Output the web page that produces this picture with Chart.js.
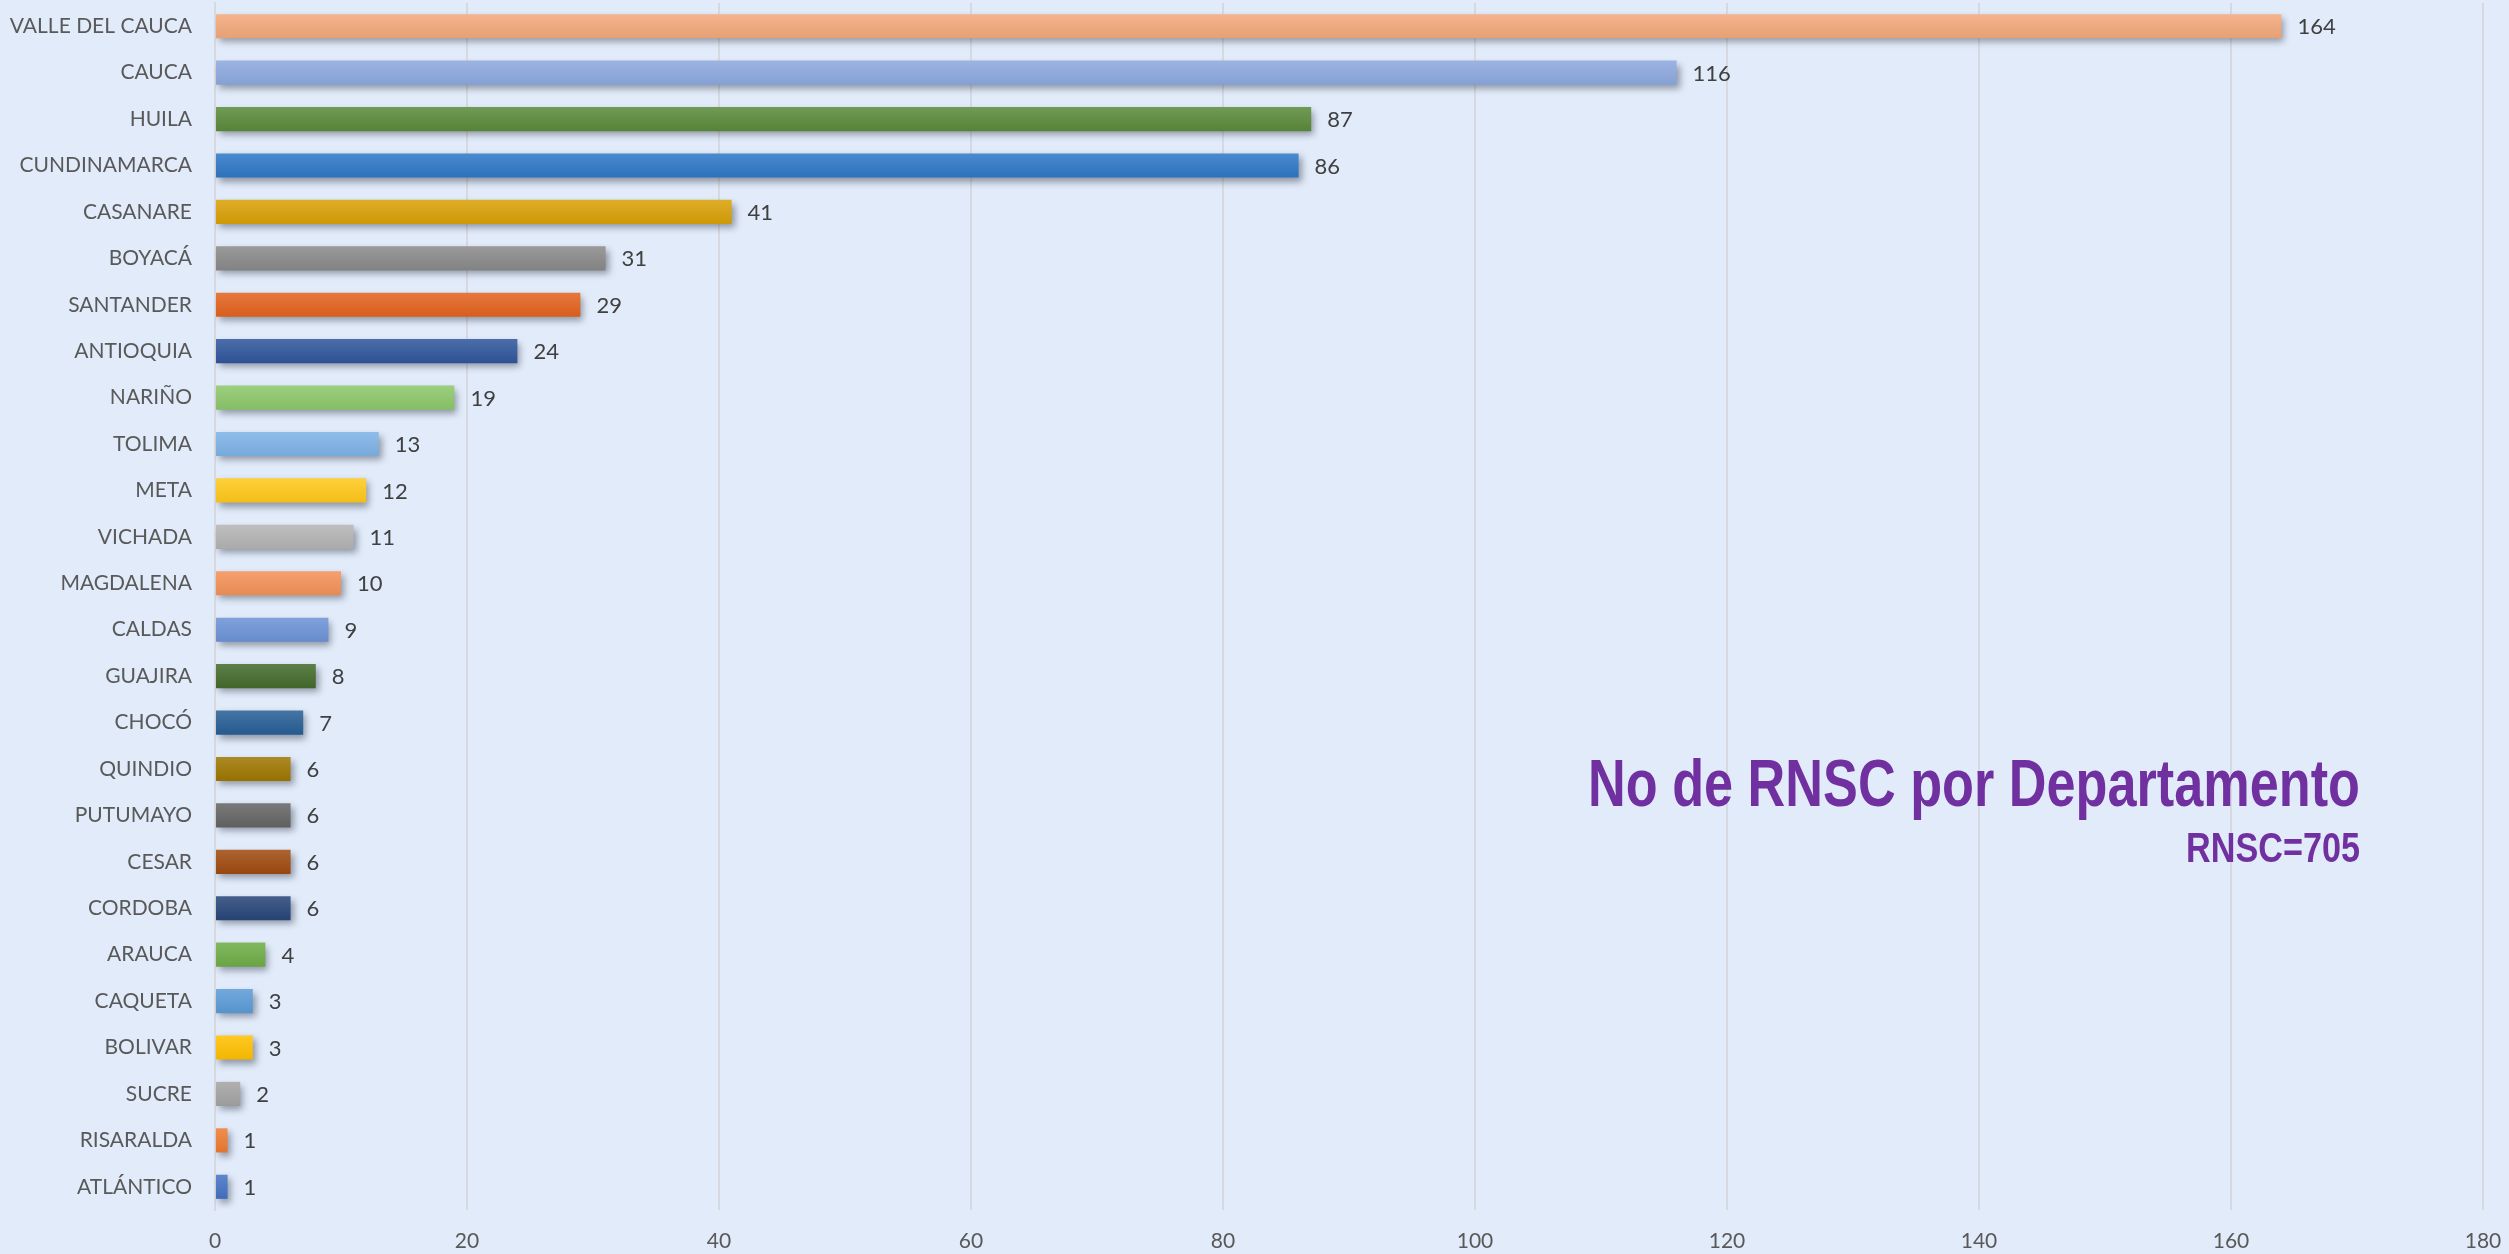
<!DOCTYPE html>
<html>
<head>
<meta charset="utf-8">
<script src="https://cdn.jsdelivr.net/npm/chart.js@4.4.1/dist/chart.umd.min.js"></script>
<style>
  html, body { margin: 0; padding: 0; background: #E1EBFA; }
  #wrap { width: 2509px; height: 1254px; position: relative; }
</style>
</head>
<body>
<div id="wrap"><canvas id="rnscChart"></canvas></div>
<script>
/* ── DATA ─────────────────────────────────────────────── */
const departamentos = [
  'VALLE DEL CAUCA', 'CAUCA', 'HUILA', 'CUNDINAMARCA', 'CASANARE', 'BOYACÁ',
  'SANTANDER', 'ANTIOQUIA', 'NARIÑO', 'TOLIMA', 'META', 'VICHADA', 'MAGDALENA',
  'CALDAS', 'GUAJIRA', 'CHOCÓ', 'QUINDIO', 'PUTUMAYO', 'CESAR', 'CORDOBA',
  'ARAUCA', 'CAQUETA', 'BOLIVAR', 'SUCRE', 'RISARALDA', 'ATLÁNTICO'
];
const rnscCount = [164, 116, 87, 86, 41, 31, 29, 24, 19, 13, 12, 11, 10, 9, 8, 7, 6, 6, 6, 6, 4, 3, 3, 2, 1, 1];
const barColors = [
  '#F2A87A', '#8CA8DE', '#5A8A3A', '#2E77C6', '#D9A006', '#898989',
  '#E2621E', '#2F559C', '#8CC76A', '#7DB2E6', '#FFC81A', '#B3B3B3', '#F39158',
  '#6C92D6', '#436A2B', '#275F95', '#9E7700', '#646464', '#A04A10', '#274579',
  '#6EAD46', '#5B9BD7', '#FFC000', '#A3A3A3', '#EE7B30', '#4472C4'
];
const xTickLabels = [0, 20, 40, 60, 80, 100, 120, 140, 160, 180];
const titleText = 'No de RNSC por Departamento';
const subtitleText = 'RNSC=705';

/* ── helpers ──────────────────────────────────────────── */
function shade(hex, amt) {
  // amt > 0 lightens towards white, < 0 darkens towards black
  const n = parseInt(hex.slice(1), 16);
  let r = n >> 16, g = (n >> 8) & 255, b = n & 255;
  const t = amt > 0 ? 255 : 0, p = Math.abs(amt);
  r = Math.round(r + (t - r) * p);
  g = Math.round(g + (t - g) * p);
  b = Math.round(b + (t - b) * p);
  return `rgb(${r},${g},${b})`;
}

const LABEL_FONT = 'Lato, Calibri, "Open Sans", sans-serif';
const TITLE_FONT = '"Liberation Sans", Arial, sans-serif';

/* ── plugins ──────────────────────────────────────────── */
const backgroundPlugin = {
  id: 'bg',
  beforeDraw(chart) {
    const c = chart.ctx;
    c.save();
    c.fillStyle = '#E1EBFA';
    c.fillRect(0, 0, chart.width, chart.height);
    c.restore();
  }
};

// vertical gradient + soft drop shadow on each bar
const barLookPlugin = {
  id: 'barLook',
  beforeDatasetDraw(chart, args) {
    const c = chart.ctx;
    const meta = args.meta;
    meta.data.forEach((bar, i) => {
      const top = bar.y - bar.height / 2;
      const g = c.createLinearGradient(0, top, 0, top + bar.height);
      g.addColorStop(0, shade(barColors[i], 0.14));
      g.addColorStop(1, shade(barColors[i], -0.05));
      bar.options.backgroundColor = g;
    });
    c.save();
    c.shadowColor = 'rgba(40, 45, 60, 0.45)';
    c.shadowBlur = 7;
    c.shadowOffsetX = 3;
    c.shadowOffsetY = 4;
  },
  afterDatasetDraw(chart) {
    chart.ctx.restore();
  }
};

const valueLabelPlugin = {
  id: 'valueLabels',
  afterDatasetsDraw(chart) {
    const c = chart.ctx;
    const meta = chart.getDatasetMeta(0);
    c.save();
    c.font = `22px ${LABEL_FONT}`;
    c.fillStyle = '#404040';
    c.textAlign = 'left';
    c.textBaseline = 'middle';
    meta.data.forEach((bar, i) => {
      c.fillText(String(rnscCount[i]), bar.x + 16, bar.y + 1);
    });
    c.restore();
  }
};

const titlePlugin = {
  id: 'overlayTitle',
  afterDraw(chart) {
    const c = chart.ctx;
    const right = 2360;
    c.save();
    c.fillStyle = '#7030A0';
    c.textAlign = 'right';
    c.textBaseline = 'alphabetic';
    c.font = `bold 66px ${TITLE_FONT}`;
    c.fillText(titleText, right, 806, 772);
    c.font = `bold 42px ${TITLE_FONT}`;
    c.fillText(subtitleText, right, 862, 174);
    c.restore();
  }
};

/* ── CHART ────────────────────────────────────────────── */
const ctx = document.getElementById('rnscChart').getContext('2d');

new Chart(ctx, {
  type: 'bar',
  data: {
    labels: departamentos,
    datasets: [{
      data: rnscCount,
      backgroundColor: barColors,
      borderWidth: 0,
      barPercentage: 0.52,
      categoryPercentage: 1.0,
    }]
  },
  options: {
    indexAxis: 'y',
    responsive: true,
    maintainAspectRatio: false,
    animation: false,
    layout: { padding: { top: 3, right: 26, left: 0, bottom: 0 } },
    plugins: {
      legend: { display: false },
      tooltip: { enabled: false },
    },
    scales: {
      x: {
        min: 0,
        max: 180,
        afterBuildTicks: axis => { axis.ticks = xTickLabels.map(v => ({ value: v })); },
        afterFit: axis => {
          axis.height = 44;
          axis.paddingLeft = 0;
          axis.paddingRight = 0;
        },
        grid: { color: '#D6D9DF', lineWidth: 2, drawTicks: false },
        border: { display: false },
        ticks: {
          color: '#595959',
          padding: 19,
          font: { family: LABEL_FONT, size: 21 },
        }
      },
      y: {
        afterFit: axis => {
          axis.width = 215;
          axis.paddingTop = 0;
          axis.paddingBottom = 0;
        },
        grid: { display: false, drawTicks: false },
        border: { color: '#D6D9DF', width: 2 },
        ticks: {
          color: '#595959',
          padding: 23,
          autoSkip: false,
          font: { family: LABEL_FONT, size: 21 },
        }
      }
    }
  },
  plugins: [backgroundPlugin, barLookPlugin, valueLabelPlugin, titlePlugin]
});
</script>
</body>
</html>
